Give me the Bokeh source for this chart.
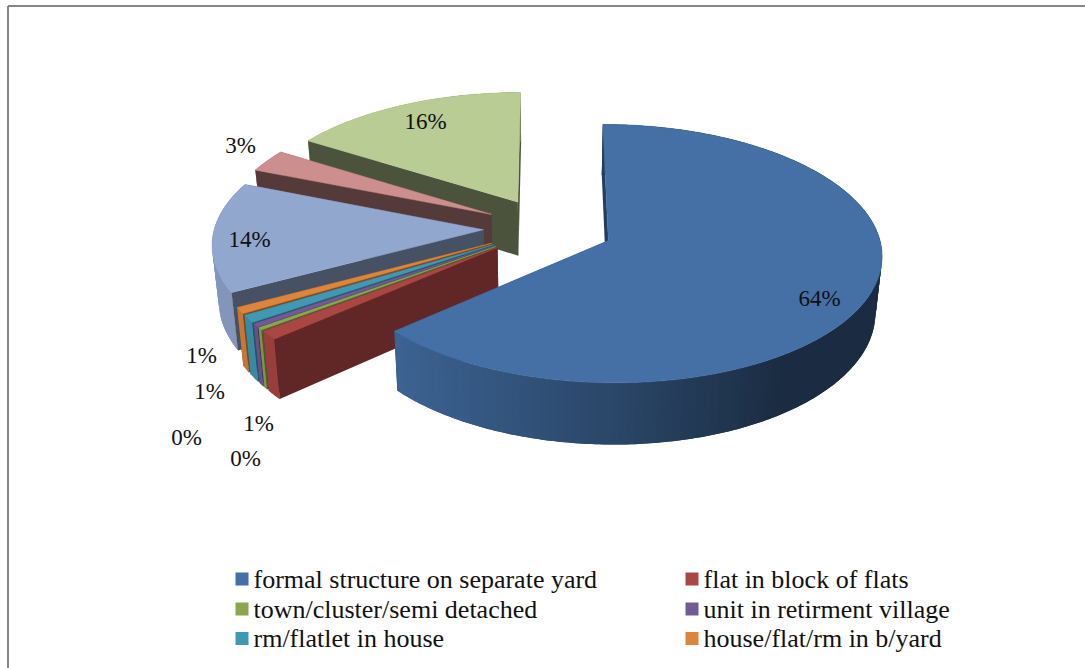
import math
from bokeh.plotting import figure
from bokeh.models import Range1d
from bokeh.embed import file_html
from bokeh.resources import INLINE
from bokeh.core.properties import value

# data
shares = [63.5, 1.1, 0.3, 0.45, 0.95, 0.8, 14.0, 2.9, 16.0]
slice_colors = ["#4470A6", "#AA4644", "#8AA64F", "#715A97", "#4099B3", "#DC853B", "#92A7CE", "#CD8F8D", "#B8CC93"]
wall_shades = [0.55, 0.57, 0.55, 0.55, 0.55, 0.55, 0.49, 0.41, 0.41]
legend_labels = ["formal structure on separate yard", "flat in block of flats",
                 "town/cluster/semi detached", "unit in retirment village",
                 "rm/flatlet in house", "house/flat/rm in b/yard"]
label_x = [819, 258, 245, 186, 209, 201, 249, 240, 425]
label_y = [298, 423, 458, 437, 391, 355, 239, 145, 121]
legend_x = [241.5, 691.5]
legend_y = [578.5, 608.5, 638]
FONT = "Liberation Serif"
LABEL_SIZE = "23px"
LEGEND_SIZE = "26px"

# 3-D pie geometry (screen pixels)
CX, Y0, R, E, D, KY, H = 548.0, 227.5, 269.0, 65.0, 2700.0, 0.466, 55.0


def project(X, Y, z):
    s = 1 / (1 + Y / D)
    return CX + X * s * (1 - 0.02 * z), Y0 - KY * Y * s + H * z * s


def shade(c, f):
    r, g, b = (int(c[i:i + 2], 16) for i in (1, 3, 5))
    return "#%02x%02x%02x" % (int(r * f), int(g * f), int(b * f))


def arc_factor(t):
    sn = math.sin(t)
    return max(0.40, 0.62 - 0.40 * sn) if sn > 0 else min(0.90, 0.62 - 0.35 * sn)


p = figure(width=1085, height=668, output_backend="svg", toolbar_location=None,
           x_range=Range1d(0, 1085), y_range=Range1d(668, 0), min_border=0,
           styles={"position": "absolute", "left": "0px", "top": "0px"})
p.axis.visible = False
p.grid.visible = False
p.outline_line_color = None
p.background_fill_color = "white"

# frame
p.line([7.5, 7.5], [668, 5.5], line_color="#868686", line_width=2)
p.line([7.5, 1085], [5.5, 5.5], line_color="#868686", line_width=2)

# slice angles
total = sum(shares)
bounds = [0.0]
for v in shares:
    bounds.append(bounds[-1] + v / total * 2 * math.pi)

# painter order: back (last slices) to front, the big slice last
order = [8, 7, 6, 5, 4, 3, 2, 1, 0]
for i in order:
    a0, a1 = bounds[i], bounds[i + 1]
    mid = (a0 + a1) / 2
    ox, oy = E * math.sin(mid), E * math.cos(mid)
    col = slice_colors[i]
    n = max(2, int((a1 - a0) / math.radians(1.5)))
    ts = [a0 + (a1 - a0) * k / n for k in range(n + 1)]
    pt = lambda t, z: project(ox + R * math.sin(t), oy + R * math.cos(t), z)
    ap = lambda z: project(ox, oy, z)

    # end radial wall
    wc = shade(col, wall_shades[i])
    q = [ap(0), pt(a1, 0), pt(a1, 1), ap(1)]
    p.patch([c[0] for c in q], [c[1] for c in q], fill_color=wc, line_color=None)
    # outer wall: each band overlaps the previous one so no seam shows
    for k in range(n):
        c = shade(col, arc_factor((ts[k] + ts[k + 1]) / 2))
        t_hi = ts[k + 1]
        t_lo = ts[max(0, k - 1)]
        mids = [t_lo + (t_hi - t_lo) * j / 4 for j in range(5)]
        q = [pt(t, 0) for t in mids] + [pt(t, 1) for t in reversed(mids)]
        p.patch([c_[0] for c_ in q], [c_[1] for c_ in q], fill_color=c, line_color=None)
    # start radial wall
    q = [ap(0), pt(a0, 0), pt(a0, 1), ap(1)]
    p.patch([c[0] for c in q], [c[1] for c in q], fill_color=wc, line_color=None)
    # top face
    q = [ap(0)] + [pt(t, 0) for t in ts]
    p.patch([c[0] for c in q], [c[1] for c in q], fill_color=col, line_color=col, line_width=0.5)

# value labels
p.text(label_x, label_y, text=["%d%%" % round(v) for v in shares], text_font=value(FONT),
       text_font_size=LABEL_SIZE, text_color="#111111", text_align="center", text_baseline="middle")

# legend
for k, lab in enumerate(legend_labels):
    lx, ly = legend_x[k % 2], legend_y[k // 2]
    p.rect([lx], [ly], width=13, height=13, fill_color=slice_colors[k], line_color=None)
    p.text([lx + 11.5], [ly], text=[lab], text_font=value(FONT), text_font_size=LEGEND_SIZE,
           text_color="#111111", text_align="left", text_baseline="middle")

open("out.html", "w").write(file_html(p, INLINE))
